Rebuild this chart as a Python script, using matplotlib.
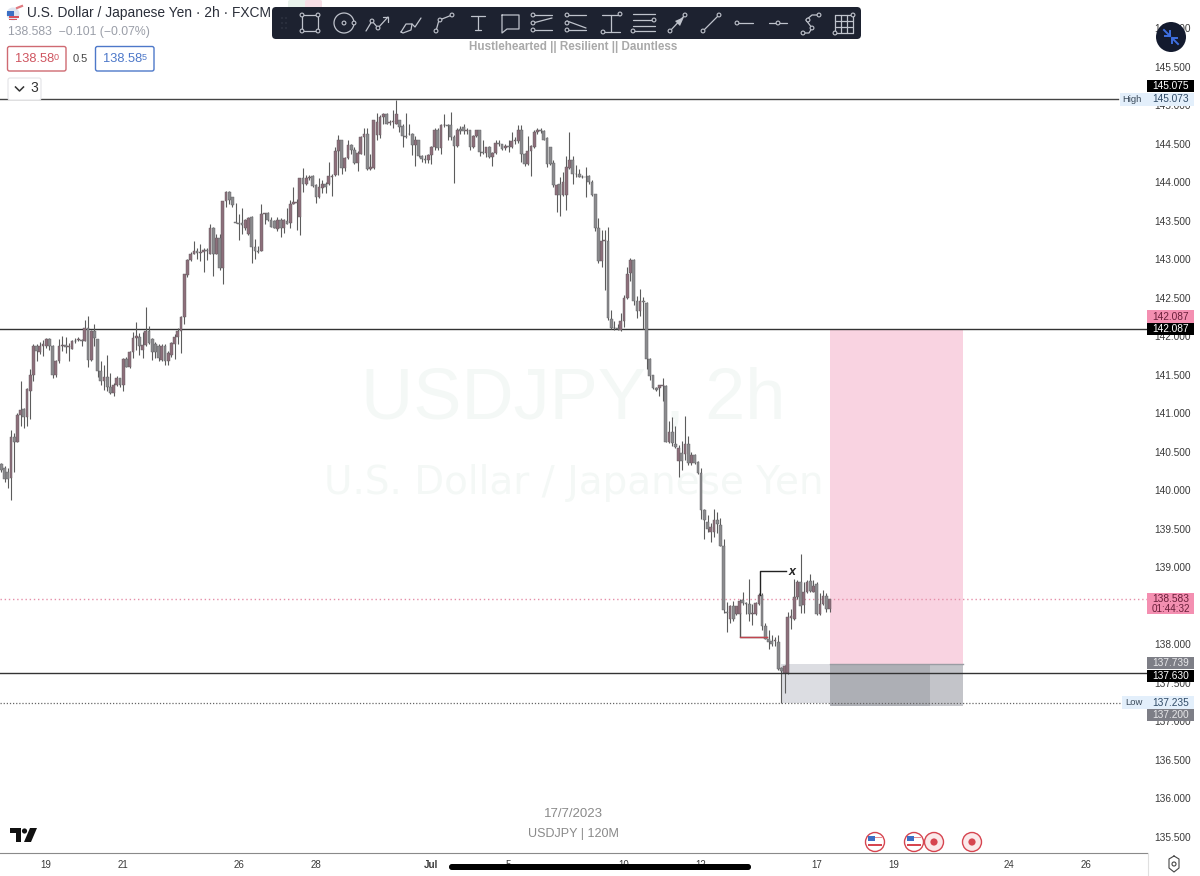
import numpy as np
import matplotlib
matplotlib.use('Agg')
import matplotlib.pyplot as plt
from matplotlib.patches import Rectangle, Circle, FancyBboxPatch, Polygon

plt.rcParams['font.family'] = ['Liberation Sans', 'DejaVu Sans']

# candles (2h bars)
opens = [
    140.34,140.28,140.24,140.16,140.69,140.63,140.98,141.05,140.95,141.29,
    141.50,141.87,141.79,141.87,141.87,141.96,141.87,141.50,141.67,141.87,
    141.88,141.86,141.83,141.93,141.95,141.95,141.94,142.10,141.69,142.07,
    141.96,141.55,141.42,141.47,141.34,141.26,141.37,141.45,141.36,141.70,
    141.60,141.79,141.98,141.99,141.82,141.88,142.06,141.96,141.90,141.87,
    141.69,141.87,141.68,141.76,141.89,141.99,142.06,142.25,142.79,142.99,
    143.07,143.11,143.08,143.09,143.12,143.07,143.40,143.07,143.27,142.88,
    143.75,143.87,143.80,143.48,143.47,143.47,143.40,143.33,143.54,143.15,
    143.11,143.11,143.58,143.60,143.51,143.49,143.39,143.51,143.40,143.49,
    143.47,143.72,143.73,143.55,144.05,143.98,144.05,144.08,143.96,143.80,
    143.92,143.97,143.98,144.07,144.09,144.40,144.54,144.18,144.31,144.48,
    144.41,144.25,144.37,144.59,144.62,144.17,144.18,144.61,144.61,144.85,
    144.88,144.77,144.78,144.76,144.81,144.73,144.60,144.63,144.63,144.48,
    144.55,144.34,144.30,144.28,144.35,144.45,144.68,144.44,144.74,144.74,
    144.74,144.59,144.47,144.69,144.72,144.66,144.67,144.45,144.60,144.67,
    144.39,144.38,144.46,144.33,144.38,144.51,144.49,144.44,144.47,144.45,
    144.53,144.53,144.67,144.36,144.23,144.40,144.46,144.65,144.67,144.66,
    144.57,144.45,144.25,143.83,143.98,143.83,143.83,144.18,144.29,144.11,
    144.11,144.07,144.07,144.08,144.00,143.84,143.40,142.97,143.24,143.24,
    142.22,142.11,142.10,142.08,142.20,142.49,142.82,142.99,142.45,142.32,
    142.45,142.43,141.70,141.49,141.32,141.33,141.35,141.35,140.63,140.76,
    140.60,140.38,140.48,140.47,140.60,140.35,140.45,140.36,140.22,139.74,
    139.59,139.46,139.46,139.61,139.55,139.27,138.42,138.32,138.49,138.39,
    138.39,138.57,138.53,138.52,138.39,138.39,138.52,138.64,138.23,138.07,
    138.04,138.04,138.03,137.69,137.63,137.63,138.34,138.33,138.61,138.80,
    138.51,138.68,138.82,138.68,138.78,138.39,138.52,138.63,138.46]
highs = [
    140.35,140.31,140.28,140.78,140.74,141.00,141.41,141.06,141.32,141.57,
    141.89,141.89,141.92,141.95,141.98,141.97,141.88,141.69,141.96,142.00,
    141.99,141.91,141.95,141.97,141.99,141.96,142.21,142.26,142.08,142.15,
    141.96,141.67,141.63,141.76,141.52,141.39,141.48,141.46,141.71,141.73,
    141.80,142.05,142.18,142.04,142.05,142.38,142.13,141.97,141.92,141.90,
    141.90,141.90,141.80,141.92,142.02,142.10,142.26,142.81,143.00,143.09,
    143.23,143.14,143.19,143.14,143.14,143.45,143.41,143.32,143.32,143.76,
    143.88,143.88,143.81,143.73,143.58,143.66,143.52,143.55,143.56,143.26,
    143.17,143.72,143.60,143.61,143.55,143.51,143.55,143.53,143.52,143.66,
    143.77,143.94,143.78,144.05,144.18,144.09,144.09,144.09,143.97,144.05,
    144.03,144.00,144.26,144.10,144.45,144.61,144.55,144.33,144.54,144.50,
    144.46,144.40,144.60,144.70,144.70,144.37,144.80,144.90,144.87,144.89,
    144.89,144.81,144.93,145.07,144.81,144.76,144.90,144.76,144.64,144.60,
    144.55,144.35,144.35,144.36,144.47,144.70,144.70,144.76,144.88,144.76,
    144.91,144.61,144.70,144.73,144.75,144.70,144.68,144.61,144.68,144.68,
    144.55,144.46,144.47,144.39,144.55,144.54,144.50,144.50,144.55,144.65,
    144.59,144.74,144.74,144.38,144.60,144.48,144.67,144.70,144.70,144.67,
    144.58,144.46,144.28,143.97,144.07,144.13,144.34,144.65,144.34,144.22,
    144.17,144.09,144.20,144.09,144.02,143.85,143.53,143.38,143.38,143.42,
    142.34,142.20,142.16,142.30,142.53,142.90,143.01,143.00,142.52,142.61,
    142.51,142.44,141.71,141.50,141.34,141.36,141.46,141.36,140.89,140.95,
    140.83,140.58,140.64,140.96,140.70,140.50,140.47,140.38,140.29,139.75,
    139.67,139.57,139.76,139.72,139.64,139.36,138.55,138.51,138.56,138.50,
    138.58,138.68,138.55,138.84,138.52,138.55,138.66,138.66,138.27,138.18,
    138.12,138.09,138.12,137.70,137.73,138.41,138.46,138.85,138.83,139.17,
    138.80,138.83,138.91,138.83,138.81,138.66,138.70,138.66,138.59]
lows = [
    140.24,140.11,140.03,139.87,140.23,140.63,140.83,140.80,140.83,140.92,
    141.41,141.67,141.77,141.74,141.84,141.82,141.45,141.47,141.65,141.80,
    141.78,141.67,141.83,141.91,141.93,141.87,141.93,141.60,141.67,141.87,
    141.47,141.37,141.30,141.28,141.25,141.22,141.35,141.34,141.29,141.60,
    141.58,141.71,141.82,141.76,141.71,141.87,141.90,141.69,141.71,141.67,
    141.67,141.62,141.63,141.73,141.70,141.89,141.78,142.15,142.77,142.98,
    143.06,143.00,142.97,142.83,142.99,143.06,142.78,143.06,142.86,142.67,
    143.68,143.71,143.68,143.47,143.25,143.32,143.38,143.31,142.95,143.00,
    143.08,143.10,143.45,143.49,143.42,143.40,143.36,143.29,143.34,143.45,
    143.40,143.71,143.38,143.31,143.87,143.96,144.03,143.94,143.73,143.79,
    143.86,143.86,143.96,143.82,144.08,144.09,144.11,144.14,144.30,144.37,
    144.23,144.14,144.36,144.35,144.16,144.16,144.17,144.54,144.57,144.76,
    144.75,144.74,144.70,144.75,144.65,144.45,144.57,144.61,144.35,144.21,
    144.33,144.26,144.25,144.25,144.23,144.42,144.42,144.37,144.72,144.55,
    144.55,143.99,144.46,144.63,144.63,144.63,144.42,144.44,144.58,144.34,
    144.37,144.33,144.31,144.21,144.37,144.47,144.42,144.42,144.39,144.44,
    144.50,144.51,144.26,144.21,144.22,144.08,144.44,144.63,144.64,144.54,
    144.20,144.22,143.94,143.61,143.56,143.82,143.64,144.17,143.97,144.07,
    144.06,144.05,143.80,143.98,143.82,143.36,142.95,142.89,142.60,142.21,
    142.09,142.08,142.08,142.07,142.12,142.48,142.71,142.40,142.24,142.26,
    142.09,141.57,141.43,141.31,141.28,141.22,141.16,140.62,140.61,140.57,
    140.54,140.17,140.26,140.39,140.33,140.32,140.34,140.21,139.62,139.37,
    139.46,139.33,139.39,139.44,139.27,138.40,138.16,138.27,138.30,138.38,
    138.38,138.51,138.39,138.30,138.25,138.38,138.51,138.18,138.06,137.93,
    137.97,137.97,137.66,137.235,137.37,137.61,138.20,138.31,138.59,138.40,
    138.40,138.66,138.67,138.67,138.38,138.38,138.51,138.42,138.42]
closes = [
    140.26,140.14,140.14,140.69,140.63,140.98,141.04,140.95,141.31,141.50,
    141.87,141.80,141.87,141.90,141.96,141.87,141.50,141.67,141.87,141.88,
    141.86,141.87,141.93,141.94,141.96,141.93,142.10,141.69,142.06,141.97,
    141.55,141.42,141.47,141.34,141.26,141.37,141.46,141.36,141.70,141.60,
    141.79,141.98,142.00,141.87,141.88,142.06,141.91,141.79,141.79,141.71,
    141.87,141.68,141.78,141.91,141.99,142.06,142.25,142.80,142.99,143.07,
    143.11,143.08,143.09,143.12,143.10,143.40,143.07,143.27,142.88,143.75,
    143.87,143.77,143.70,143.47,143.45,143.44,143.51,143.53,143.15,143.11,
    143.09,143.58,143.60,143.51,143.42,143.40,143.51,143.40,143.51,143.46,
    143.72,143.74,143.74,144.05,143.98,144.05,144.07,143.95,143.80,143.93,
    143.98,143.94,144.08,144.08,144.40,144.54,144.18,144.31,144.48,144.41,
    144.25,144.38,144.59,144.62,144.17,144.19,144.80,144.78,144.85,144.88,
    144.76,144.78,144.79,144.88,144.72,144.60,144.58,144.63,144.48,144.55,
    144.34,144.30,144.28,144.35,144.45,144.67,144.44,144.74,144.74,144.73,
    144.59,144.47,144.68,144.66,144.66,144.68,144.45,144.60,144.67,144.39,
    144.38,144.46,144.33,144.38,144.51,144.49,144.43,144.47,144.45,144.53,
    144.54,144.67,144.36,144.23,144.40,144.47,144.65,144.68,144.66,144.55,
    144.23,144.24,143.96,143.96,143.83,144.00,144.20,144.29,144.11,144.10,
    144.07,144.06,144.07,144.00,143.83,143.40,142.97,143.23,143.25,142.23,
    142.10,142.10,142.09,142.19,142.49,142.81,142.99,142.45,142.32,142.45,
    142.44,141.70,141.48,141.32,141.30,141.36,141.36,140.63,140.76,140.61,
    140.56,140.55,140.38,140.60,140.35,140.45,140.35,140.22,139.74,139.61,
    139.50,139.52,139.61,139.56,139.27,138.44,138.40,138.49,138.32,138.49,
    138.56,138.53,138.52,138.39,138.40,138.53,138.64,138.23,138.07,138.03,
    138.00,138.05,137.68,137.65,137.72,138.35,138.36,138.61,138.80,138.49,
    138.68,138.81,138.69,138.75,138.39,138.52,138.63,138.46,138.58]

price_ticks = [135.5,136.0,136.5,137.0,137.5,138.0,138.5,139.0,139.5,140.0,140.5,141.0,
               141.5,142.0,142.5,143.0,143.5,144.0,144.5,145.0,145.5,146.0]
date_bars = [14,38,74,98,134,158,194,218,254,278,314,338]
date_labels = ['19','21','26','28','Jul','5','10','12','17','19','24','26']

high_level = 145.073
resist_level = 142.087
support_level = 137.63
low_level = 137.235
last_price = 138.583
target_price = 142.087
entry_price = 137.739
stop_price = 137.20

W, H = 1200, 876
fig = plt.figure(figsize=(W/100, H/100), dpi=100, facecolor='white')

# main chart, its box runs from the top left to the time axis / price axis
ax = fig.add_axes([0, 1-853/H, 1147/W, 853/H])
ax.set_xlim(-0.405, 356.9)
ax.set_ylim(135.286, 146.364)
for s in ['top', 'left', 'right']:
    ax.spines[s].set_visible(False)
ax.spines['bottom'].set_color('#8a8a8a')
ax.spines['bottom'].set_linewidth(0.8)
ax.yaxis.tick_right()
ax.set_yticks(price_ticks)
ax.set_yticklabels(['%.3f' % p for p in price_ticks], fontsize=7.3, color='#3a3a3a')
ax.tick_params(axis='y', length=0, pad=5)
ax.set_xticks(date_bars)
ax.set_xticklabels(date_labels, fontsize=7, color='#3a3a3a')
ax.tick_params(axis='x', length=0, pad=5)
ax.get_xticklabels()[4].set_fontweight('bold')

# watermark
ax.text(0.5, 1-400/853, 'USDJPY , 2h', transform=ax.transAxes, ha='center', va='center',
        fontsize=52, color='#f4f8f6', zorder=0)
ax.text(0.5, 1-483/853, 'U.S. Dollar / Japanese Yen', transform=ax.transAxes, ha='center', va='center',
        fontsize=28, color='#f4f8f6', zorder=0, family=['DejaVu Sans'])

# trade boxes
ax.add_patch(Rectangle((258.2, entry_price), 41.4, target_price-entry_price, fc='#f9d3e1', ec='none', zorder=1))
ax.add_patch(Rectangle((243, low_level), 15.2, entry_price-low_level, fc='#dcdde2', ec='none', zorder=1))
ax.add_patch(Rectangle((258.2, stop_price), 31.1, entry_price-stop_price, fc='#adafb5', ec='none', zorder=1))
ax.add_patch(Rectangle((289.3, stop_price), 10.3, entry_price-stop_price, fc='#c3c4c9', ec='none', zorder=1))
ax.plot([258.2, 299.6], [entry_price, entry_price], color='#9a9ca3', lw=1, zorder=1)

# levels
ax.plot([-0.4, 348], [high_level, high_level], color='#444444', lw=1, zorder=2)
ax.axhline(resist_level, color='#333333', lw=1, zorder=2)
ax.axhline(support_level, color='#333333', lw=1, zorder=4)
ax.plot([-0.4, 348.5], [low_level, low_level], color='#666666', lw=0.9, ls=(0, (1, 1.5)), zorder=2)
ax.axhline(last_price, color='#e58fa9', lw=1, ls=(0, (1, 2)), zorder=2)

# candles
x = np.arange(len(opens))
o = np.array(opens)
c = np.array(closes)
up = c >= o
ax.vlines(x, lows, highs, color='#5c5c5c', lw=0.8, zorder=3)
ax.bar(x[up], (c-o)[up], bottom=o[up], width=0.86, color='#8d6f7b', edgecolor='#5f5a5d', lw=0.3, zorder=3)
ax.bar(x[~up], (c-o)[~up], bottom=o[~up], width=0.86, color='#8b8b8e', edgecolor='#5f5f61', lw=0.3, zorder=3)

# marks on the structure
ax.plot([236.3, 236.3, 244.5], [138.636, 138.948, 138.948], color='#222222', lw=1, zorder=4)
ax.text(246.2, 138.93, 'x', fontsize=9, style='italic', fontweight='bold', color='#222222',
        ha='center', va='center', zorder=5)
ax.plot([230.1, 230.1, 238.5], [138.40, 138.09, 138.09], color='#555555', lw=1, zorder=2)
ax.plot([230.1, 238.5], [138.09, 138.09], color='#c2454f', lw=1, zorder=4)

ax.text(0.5, 1-814/853, '17/7/2023', transform=ax.transAxes, ha='center', va='center', fontsize=9.5, color='#8a8a8a')
ax.text(0.5, 1-834/853, 'USDJPY | 120M', transform=ax.transAxes, ha='center', va='center', fontsize=9, color='#8a8a8a')

# interface drawn on top in pixel coordinates
ui = fig.add_axes([0, 0, 1, 1], zorder=10)
ui.set_xlim(0, W)
ui.set_ylim(H, 0)
ui.axis('off')
ui.patch.set_alpha(0)


def box(x0, y0, x1, y1, fc, ec='none', lw=0, r=0.0):
    if r:
        ui.add_patch(FancyBboxPatch((x0+r, y0+r), x1-x0-2*r, y1-y0-2*r, boxstyle='round,pad=%f,rounding_size=%f' % (r, r),
                                    fc=fc, ec=ec, lw=lw))
    else:
        ui.add_patch(Rectangle((x0, y0), x1-x0, y1-y0, fc=fc, ec=ec, lw=lw))


def txt(x, y, s, size=7.3, color='#333333', ha='left', **kw):
    ui.text(x, y, s, fontsize=size, color=color, ha=ha, va='center', **kw)


# header
ui.add_patch(Circle((13, 14), 6.5, fc='#dfe5f0', ec='none'))
ui.add_patch(Rectangle((7, 11), 7, 4.5, fc='#3d6fc4', ec='none'))
ui.add_patch(Rectangle((9, 16), 10, 1.6, fc='#d9525e', ec='none'))
ui.add_patch(Rectangle((9, 18.6), 8, 1.4, fc='#d9525e', ec='none'))
ui.plot([17, 22], [8, 6], color='#e07a80', lw=1.6)
txt(27, 12.5, 'U.S. Dollar / Japanese Yen · 2h · FXCM', 9.9, '#2a2e39')
txt(8, 32, '138.583  −0.101 (−0.07%)', 8.8, '#9a9ea8')
box(7.5, 46.5, 66, 71, 'white', '#cf6a72', 1, 2)
txt(15, 59, '138.58', 9.3, '#cf5560')
txt(53.5, 57, '0', 6.5, '#cf5560')
txt(73, 59, '0.5', 8, '#444444')
box(95.5, 46.5, 154, 71, 'white', '#4d78c9', 1, 2)
txt(103, 59, '138.58', 9.3, '#4d78c9')
txt(141.5, 57, '5', 6.5, '#4d78c9')
box(8, 78, 41, 100, 'white', '#e3e3e6', 0.8, 2)
ui.plot([15.5, 19.5, 23.5], [87, 91, 87], color='#333333', lw=1.1)
txt(30, 88.5, '3', 10, '#333333')

# drawing toolbar
dark = '#1d2230'
ic = '#bfc3cc'
box(288, 0, 322, 9, '#e9f2ec', r=2)
box(305, 0, 322, 9, '#f7dfe6', r=2)
box(272, 7, 861, 39, dark, r=4)


def seg(xs, ys):
    ui.plot(xs, ys, color=ic, lw=0.9, solid_capstyle='round')


def dot(x0, y0):
    ui.add_patch(Circle((x0, y0), 1.9, fc=dark, ec=ic, lw=0.8, zorder=5))


for dx in [282, 286]:
    for dy in [18, 23, 28]:
        ui.add_patch(Circle((dx, dy), 0.5, fc='#5a6070', ec='none'))
seg([302, 318, 318, 302, 302], [15, 15, 31, 31, 15])
for p in [(302, 15), (318, 15), (318, 31), (302, 31)]:
    dot(*p)
ui.add_patch(Circle((344, 23), 10, fc='none', ec=ic, lw=0.9))
dot(344, 23)
dot(354, 23)
seg([366, 372, 378, 388], [31, 21, 28, 17])
seg([383, 388, 388], [17, 17, 22])
dot(372, 21)
dot(378, 28)
seg([401, 406, 412, 411, 403, 401], [32, 24, 24, 30, 33, 32])
seg([412, 415, 421], [24, 27, 18])
seg([436, 439, 442, 452], [31, 20, 19, 15])
dot(436, 31)
dot(440, 20)
dot(452, 15)
seg([471, 485], [16, 16])
seg([478, 478], [16, 30])
seg([475, 481], [30, 30])
seg([502, 519, 519, 507, 502, 502], [15, 15, 29, 29, 33, 15])
for x0 in [533, 567]:
    seg([x0, x0+19], [15, 15])
    seg([x0, x0+19], [23, 18] if x0 == 533 else [21, 28])
    seg([x0, x0+19], [30, 30])
    for dy in [15, 23, 30]:
        dot(x0, dy)
seg([602, 620], [15, 15])
seg([602, 620], [32, 32])
seg([611, 611], [15, 32])
dot(620, 14)
dot(603, 32)
for dy in [14, 20, 26, 31]:
    seg([633, 655], [dy, dy])
dot(633, 31)
dot(654, 20)
seg([670, 685], [31, 15])
ui.add_patch(Polygon([(684, 17), (675, 21), (680, 26)], fc=ic, ec='none'))
dot(670, 31)
dot(685, 15)
seg([703, 719], [31, 15])
dot(703, 31)
dot(719, 15)
seg([737, 753], [23, 23])
dot(737, 23)
seg([769, 787], [23, 23])
dot(778, 23)
ui.plot([803, 809, 812, 806, 812, 818], [33, 33, 28, 20, 15, 15], color=ic, lw=0.9)
dot(803, 33)
dot(812, 28)
dot(808, 20)
dot(819, 15)
for gx in [835, 841, 847, 853]:
    seg([gx, gx], [15, 33])
for gy in [15, 21, 27, 33]:
    seg([835, 853], [gy, gy])
dot(835, 33)
dot(853, 15)
txt(573, 47, 'Hustlehearted || Resilient || Dauntless', 8.4, '#a9a9a9', ha='center', fontweight='bold')

# top right button
ui.add_patch(Circle((1171, 37), 15, fc='#131a2e', ec='none'))
ui.plot([1164, 1170], [30, 36], color='#3f6fe0', lw=1.4)
ui.plot([1170, 1170, 1165], [31, 36, 36], color='#3f6fe0', lw=1.4)
ui.plot([1178, 1172], [44, 38], color='#3f6fe0', lw=1.4)
ui.plot([1172, 1172, 1177], [43, 38, 38], color='#3f6fe0', lw=1.4)

# price tags
box(1147, 80, 1194, 92, '#000000')
txt(1171, 86, '145.075', color='white', ha='center')
box(1120, 93, 1194, 106, '#e3effb')
txt(1132, 99.5, 'High', 6.8, '#3a4a5a', ha='center')
txt(1171, 99.5, '145.073', color='#2f4a66', ha='center')
box(1147, 310, 1194, 323, '#f48fb1')
txt(1171, 316.5, '142.087', color='#6a1f3a', ha='center')
box(1147, 323, 1194, 335, '#000000')
txt(1171, 329, '142.087', color='white', ha='center')
box(1147, 593, 1194, 614, '#f48fb1')
txt(1171, 598.5, '138.583', color='#6a1f3a', ha='center')
txt(1171, 608.5, '01:44:32', 7.1, '#6a1f3a', ha='center')
box(1147, 657, 1194, 669, '#7d7e86')
txt(1171, 663.5, '137.739', color='#e8e8ea', ha='center')
box(1147, 670, 1194, 682, '#000000')
txt(1171, 676, '137.630', color='white', ha='center')
box(1122, 696, 1194, 708.5, '#e3effb')
txt(1134, 702.5, 'Low', 6.8, '#3a4a5a', ha='center')
txt(1171, 702.5, '137.235', color='#2f4a66', ha='center')
box(1147, 708.5, 1194, 721, '#7d7e86')
txt(1171, 715, '137.200', color='#e8e8ea', ha='center')

# logo, events, bottom bits
ui.add_patch(Polygon([(10, 828), (21, 828), (21, 842), (16, 842), (16, 833), (10, 833)], fc='#111111', ec='none'))
ui.add_patch(Circle((24.5, 831), 2.6, fc='#111111', ec='none'))
ui.add_patch(Polygon([(30, 828), (37, 828), (31, 842), (24, 842)], fc='#111111', ec='none'))
for ex in [875, 914]:
    ui.add_patch(Circle((ex, 842), 9.5, fc='white', ec='#d64550', lw=1))
    ui.add_patch(Rectangle((ex-7, 836), 7, 5, fc='#3d6fc4', ec='none'))
    ui.add_patch(Rectangle((ex, 837), 7, 1.2, fc='#e98a90', ec='none'))
    ui.add_patch(Rectangle((ex-7, 844), 14, 2, fc='#d64550', ec='none'))
for ex in [934, 972]:
    ui.add_patch(Circle((ex, 842), 9.5, fc='#fbe9ea', ec='#d64550', lw=1))
    ui.add_patch(Circle((ex, 842), 3.6, fc='#d64550', ec='none'))
ui.plot([1147.5, 1147.5], [853, 876], color='#e0e0e0', lw=0.8)
ui.plot([1174, 1179, 1179, 1174, 1169, 1169, 1174], [856, 859, 868, 872, 868, 859, 856], color='#444444', lw=0.8)
ui.add_patch(Circle((1174, 864), 2, fc='none', ec='#444444', lw=0.8))
box(449, 864, 751, 870, '#000000', r=2.9)

fig.savefig('out.png', dpi=100, facecolor='white')
